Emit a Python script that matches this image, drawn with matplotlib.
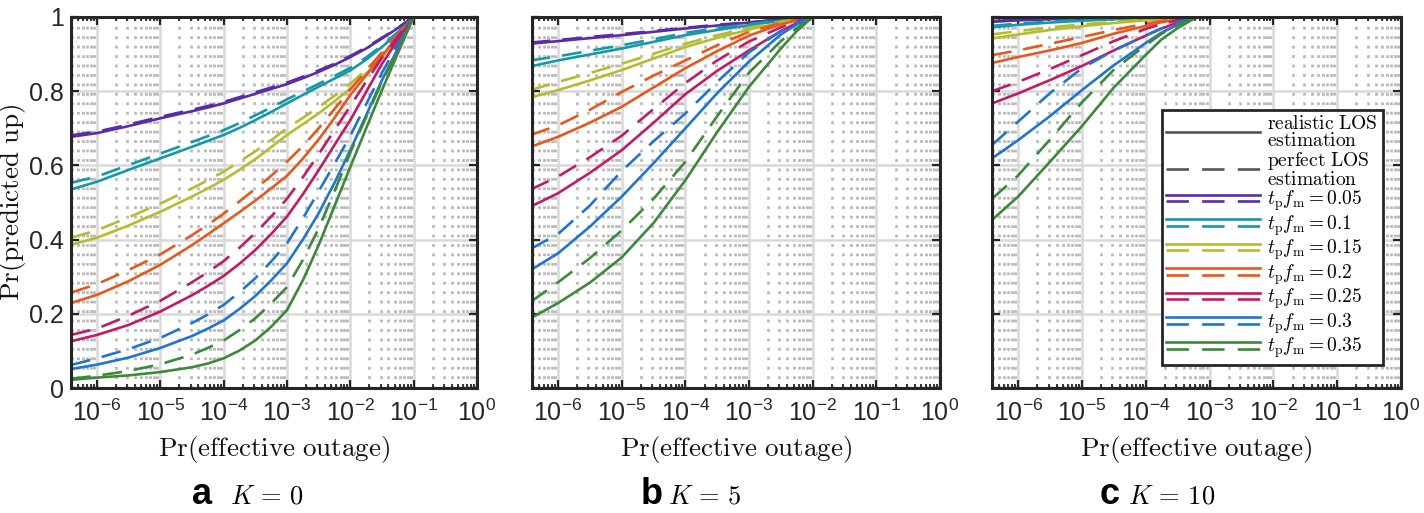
import numpy as np
import matplotlib
matplotlib.use('Agg')
import matplotlib.pyplot as plt
from matplotlib.lines import Line2D
from matplotlib.legend_handler import HandlerBase
from matplotlib.font_manager import FontProperties
from matplotlib.ticker import FixedLocator, FixedFormatter, LogLocator, NullFormatter

plt.rcParams['font.family'] = ['Liberation Sans', 'DejaVu Sans']

# t_p * f_m values and colours
tpfm = [0.05, 0.1, 0.15, 0.2, 0.25, 0.3, 0.35]
colors = ['#5a2ca8', '#1598a8', '#b4bd2e', '#e8581c', '#c41a66', '#1f75d3', '#3a8a3a']

# panel a, K = 0   (x given as log10 of Pr(effective outage))
logx_a = [-6.41, -6, -5.5, -5, -4.5, -4.25, -4, -3.75, -3.5, -3.25, -3, -2.75, -2.5, -2.25,
          -2, -1.75, -1.5, -1.25, -1]
real_a = [
    [.677, .687, .706, .727, .746, .756, .767, .780, .793, .806, .819, .835, .852, .871, .892, .915, .942, .970, 1.0],
    [.535, .556, .588, .619, .650, .666, .682, .701, .722, .744, .767, .790, .812, .834, .856, .885, .919, .957, 1.0],
    [.386, .405, .438, .475, .516, .538, .561, .588, .617, .649, .682, .711, .740, .773, .807, .848, .892, .944, 1.0],
    [.229, .251, .288, .332, .385, .414, .444, .474, .505, .538, .572, .618, .670, .728, .790, .843, .895, .948, 1.0],
    [.126, .143, .170, .206, .250, .275, .302, .335, .372, .415, .462, .522, .587, .655, .722, .798, .874, .938, 1.0],
    [.051, .063, .082, .108, .140, .160, .182, .213, .248, .290, .336, .400, .471, .553, .641, .735, .830, .915, 1.0],
    [.022, .028, .034, .043, .056, .066, .080, .101, .128, .165, .210, .290, .385, .490, .596, .700, .803, .902, 1.0]]
perf_a = [
    [.681, .691, .710, .731, .750, .760, .771, .784, .797, .810, .823, .839, .856, .874, .895, .918, .944, .971, 1.0],
    [.553, .570, .601, .632, .663, .679, .695, .714, .735, .756, .778, .799, .820, .841, .863, .891, .923, .959, 1.0],
    [.405, .425, .460, .497, .538, .560, .583, .610, .638, .668, .700, .728, .757, .788, .820, .858, .900, .948, 1.0],
    [.257, .280, .318, .360, .412, .440, .470, .503, .537, .572, .610, .652, .700, .752, .805, .855, .905, .953, 1.0],
    [.143, .160, .195, .235, .285, .312, .342, .378, .418, .462, .510, .568, .630, .695, .760, .826, .890, .947, 1.0],
    [.062, .080, .105, .135, .175, .198, .224, .258, .296, .341, .390, .457, .530, .604, .680, .765, .850, .927, 1.0],
    [.025, .033, .046, .064, .090, .108, .128, .156, .188, .228, .272, .345, .430, .530, .635, .730, .825, .912, 1.0]]

# panel b, K = 5
logx_b = [-6.43, -6, -5.5, -5, -4.5, -4, -3.5, -3, -2.5, -2.25, -2]
real_b = [
    [.928, .935, .943, .951, .960, .969, .977, .985, .993, .997, 1.0],
    [.867, .883, .899, .915, .933, .951, .965, .978, .990, .995, 1.0],
    [.783, .803, .829, .857, .888, .919, .944, .966, .985, .993, 1.0],
    [.650, .677, .715, .758, .810, .862, .908, .950, .980, .991, 1.0],
    [.489, .525, .580, .641, .715, .792, .855, .910, .962, .984, 1.0],
    [.318, .363, .435, .516, .606, .700, .795, .880, .953, .980, 1.0],
    [.188, .229, .284, .352, .445, .560, .690, .812, .915, .962, 1.0]]
perf_b = [
    [.931, .938, .946, .954, .962, .971, .979, .986, .993, .997, 1.0],
    [.883, .894, .909, .924, .940, .957, .970, .981, .991, .996, 1.0],
    [.803, .825, .849, .874, .901, .928, .951, .971, .987, .994, 1.0],
    [.682, .708, .750, .798, .842, .883, .924, .960, .984, .993, 1.0],
    [.535, .570, .622, .680, .752, .822, .883, .934, .972, .988, 1.0],
    [.375, .415, .492, .585, .665, .740, .825, .905, .962, .984, 1.0],
    [.232, .285, .350, .425, .510, .610, .733, .850, .935, .970, 1.0]]

# panel c, K = 10
logx_c = [-6.41, -6, -5.5, -5, -4.5, -4, -3.75, -3.5, -3.2]
real_c = [
    [.987, .991, .994, .996, .998, .999, 1.0, 1.0, 1.0],
    [.972, .979, .985, .990, .994, .997, .998, .999, 1.0],
    [.942, .953, .965, .975, .984, .991, .994, .997, 1.0],
    [.876, .892, .910, .930, .955, .976, .986, .993, 1.0],
    [.767, .794, .830, .868, .910, .950, .969, .985, 1.0],
    [.619, .668, .733, .803, .870, .930, .958, .979, 1.0],
    [.453, .516, .610, .706, .810, .898, .940, .970, 1.0]]
perf_c = [
    [.989, .992, .995, .997, .998, .999, 1.0, 1.0, 1.0],
    [.976, .982, .988, .992, .995, .998, .999, .9995, 1.0],
    [.953, .962, .972, .980, .987, .993, .995, .998, 1.0],
    [.897, .910, .928, .946, .965, .982, .989, .995, 1.0],
    [.800, .825, .860, .897, .935, .968, .981, .991, 1.0],
    [.655, .718, .795, .862, .910, .950, .970, .986, 1.0],
    [.510, .573, .670, .770, .858, .924, .955, .978, 1.0]]

xticks = [1e-6, 1e-5, 1e-4, 1e-3, 1e-2, 1e-1, 1e0]
xticklabels = [r'$\mathregular{10^{-6}}$', r'$\mathregular{10^{-5}}$', r'$\mathregular{10^{-4}}$',
               r'$\mathregular{10^{-3}}$', r'$\mathregular{10^{-2}}$', r'$\mathregular{10^{-1}}$',
               r'$\mathregular{10^{0}}$']
yticks = [0, 0.2, 0.4, 0.6, 0.8, 1]
yticklabels = ['0', '0.2', '0.4', '0.6', '0.8', '1']

W, H = 1424, 513
fig = plt.figure(figsize=(W / 100, H / 100), dpi=100)

dash = (0, (7.5, 4.5))
dark = '#262626'
panels = [(71, 477, logx_a, real_a, perf_a, 'a', r'$K\,=\,0$', 192, 230),
          (532, 940, logx_b, real_b, perf_b, 'b', r'$K\,=\,5$', 641, 668),
          (992, 1401, logx_c, real_c, perf_c, 'c', r'$K\,=\,10$', 1100, 1128)]
top, bot = 17, 388

axes = []
for i, (l, r, lx, real, perf, letter, ktxt, lx_let, lx_k) in enumerate(panels):
    ax = fig.add_axes([l / W, 1 - bot / H, (r - l) / W, (bot - top) / H])
    axes.append(ax)
    ax.set_xscale('log')
    ax.set_xlim(10 ** -6.41, 1)
    ax.set_ylim(0, 1)
    xs = 10.0 ** np.array(lx)
    for k in range(len(tpfm)):
        ax.plot(xs, real[k], color=colors[k], lw=1.9)
        ax.plot(xs, perf[k], color=colors[k], lw=1.9, ls=dash)

    ax.xaxis.set_major_locator(FixedLocator(xticks))
    ax.xaxis.set_major_formatter(FixedFormatter(xticklabels))
    ax.xaxis.set_minor_locator(LogLocator(base=10, subs=np.arange(2, 10), numticks=20))
    ax.xaxis.set_minor_formatter(NullFormatter())
    ax.set_yticks(yticks)
    if i == 0:
        ax.set_yticklabels(yticklabels)
    else:
        ax.set_yticklabels([])

    ax.set_axisbelow(True)
    ax.grid(True, which='major', color='#d9d9d9', lw=1.8)
    ax.grid(True, which='minor', axis='x', color='#b9b9b9', lw=2.0, ls=(0, (1, 2.4)))
    ax.tick_params(which='both', direction='in', top=True, right=True, color=dark,
                   labelsize=18, labelcolor=dark)
    ax.tick_params(which='major', length=6, width=1.6)
    ax.tick_params(which='minor', length=3, width=1.3)
    ax.tick_params(axis='x', pad=8)
    ax.tick_params(axis='y', pad=5)
    for s in ax.spines.values():
        s.set_linewidth(2.2)
        s.set_color(dark)

    ax.set_xlabel(r'$\mathrm{Pr(effective\ outage)}$', fontsize=19.5, math_fontfamily='cm', color='#111111')
    ax.xaxis.set_label_coords(0.5, -0.125)
    if i == 0:
        ax.set_ylabel(r'$\mathrm{Pr(predicted\ up)}$', fontsize=19.5, math_fontfamily='cm', color='#111111')
        ax.yaxis.set_label_coords(-0.105, 0.5)

    fig.text(lx_let / W, 1 - 504 / H, letter, fontsize=26, fontweight='bold',
             ha='left', va='baseline', color='black')
    fig.text(lx_k / W, 1 - 504 / H, ktxt, fontsize=19, math_fontfamily='cm',
             ha='left', va='baseline', color='black')


class HandlerPair(HandlerBase):
    # solid line on top, dashed line below, same colour
    def create_artists(self, legend, orig_handle, xdescent, ydescent, width, height, fontsize, trans):
        c = orig_handle.get_color()
        y = height / 2 - ydescent
        d = 2.4
        x = [-xdescent, -xdescent + width]
        l1 = Line2D(x, [y + d, y + d], color=c, lw=1.9)
        l2 = Line2D(x, [y - d, y - d], color=c, lw=1.9, ls=(0, (8.5, 5)))
        l1.set_transform(trans)
        l2.set_transform(trans)
        return [l1, l2]


h_real = Line2D([], [], color='#555555', lw=1.9)
h_perf = Line2D([], [], color='#555555', lw=1.9, ls=(0, (8.5, 5)))
h_col = [Line2D([], [], color=c) for c in colors]
labels = [r'$\mathrm{realistic\ LOS}$' + '\n' + r'$\mathrm{estimation}$',
          r'$\mathrm{perfect\ LOS}$' + '\n' + r'$\mathrm{estimation}$']
labels += [r'$t_{\rm p}f_{\rm m} = %g$' % v for v in tpfm]
hmap = {h: HandlerPair() for h in h_col}

axc = axes[2]
leg = axc.legend([h_real, h_perf] + h_col, labels, handler_map=hmap,
                 loc='upper right', bbox_to_anchor=(0.956, 0.749), borderaxespad=0,
                 prop=FontProperties(size=14, math_fontfamily='cm'),
                 handlelength=4.8, handletextpad=0.4, labelspacing=0.0,
                 borderpad=0.25, fancybox=False, framealpha=1, edgecolor=dark)
leg.get_frame().set_linewidth(2.0)
for t in leg.get_texts():
    t.set_linespacing(0.92)

fig.savefig('out.png', dpi=100)
